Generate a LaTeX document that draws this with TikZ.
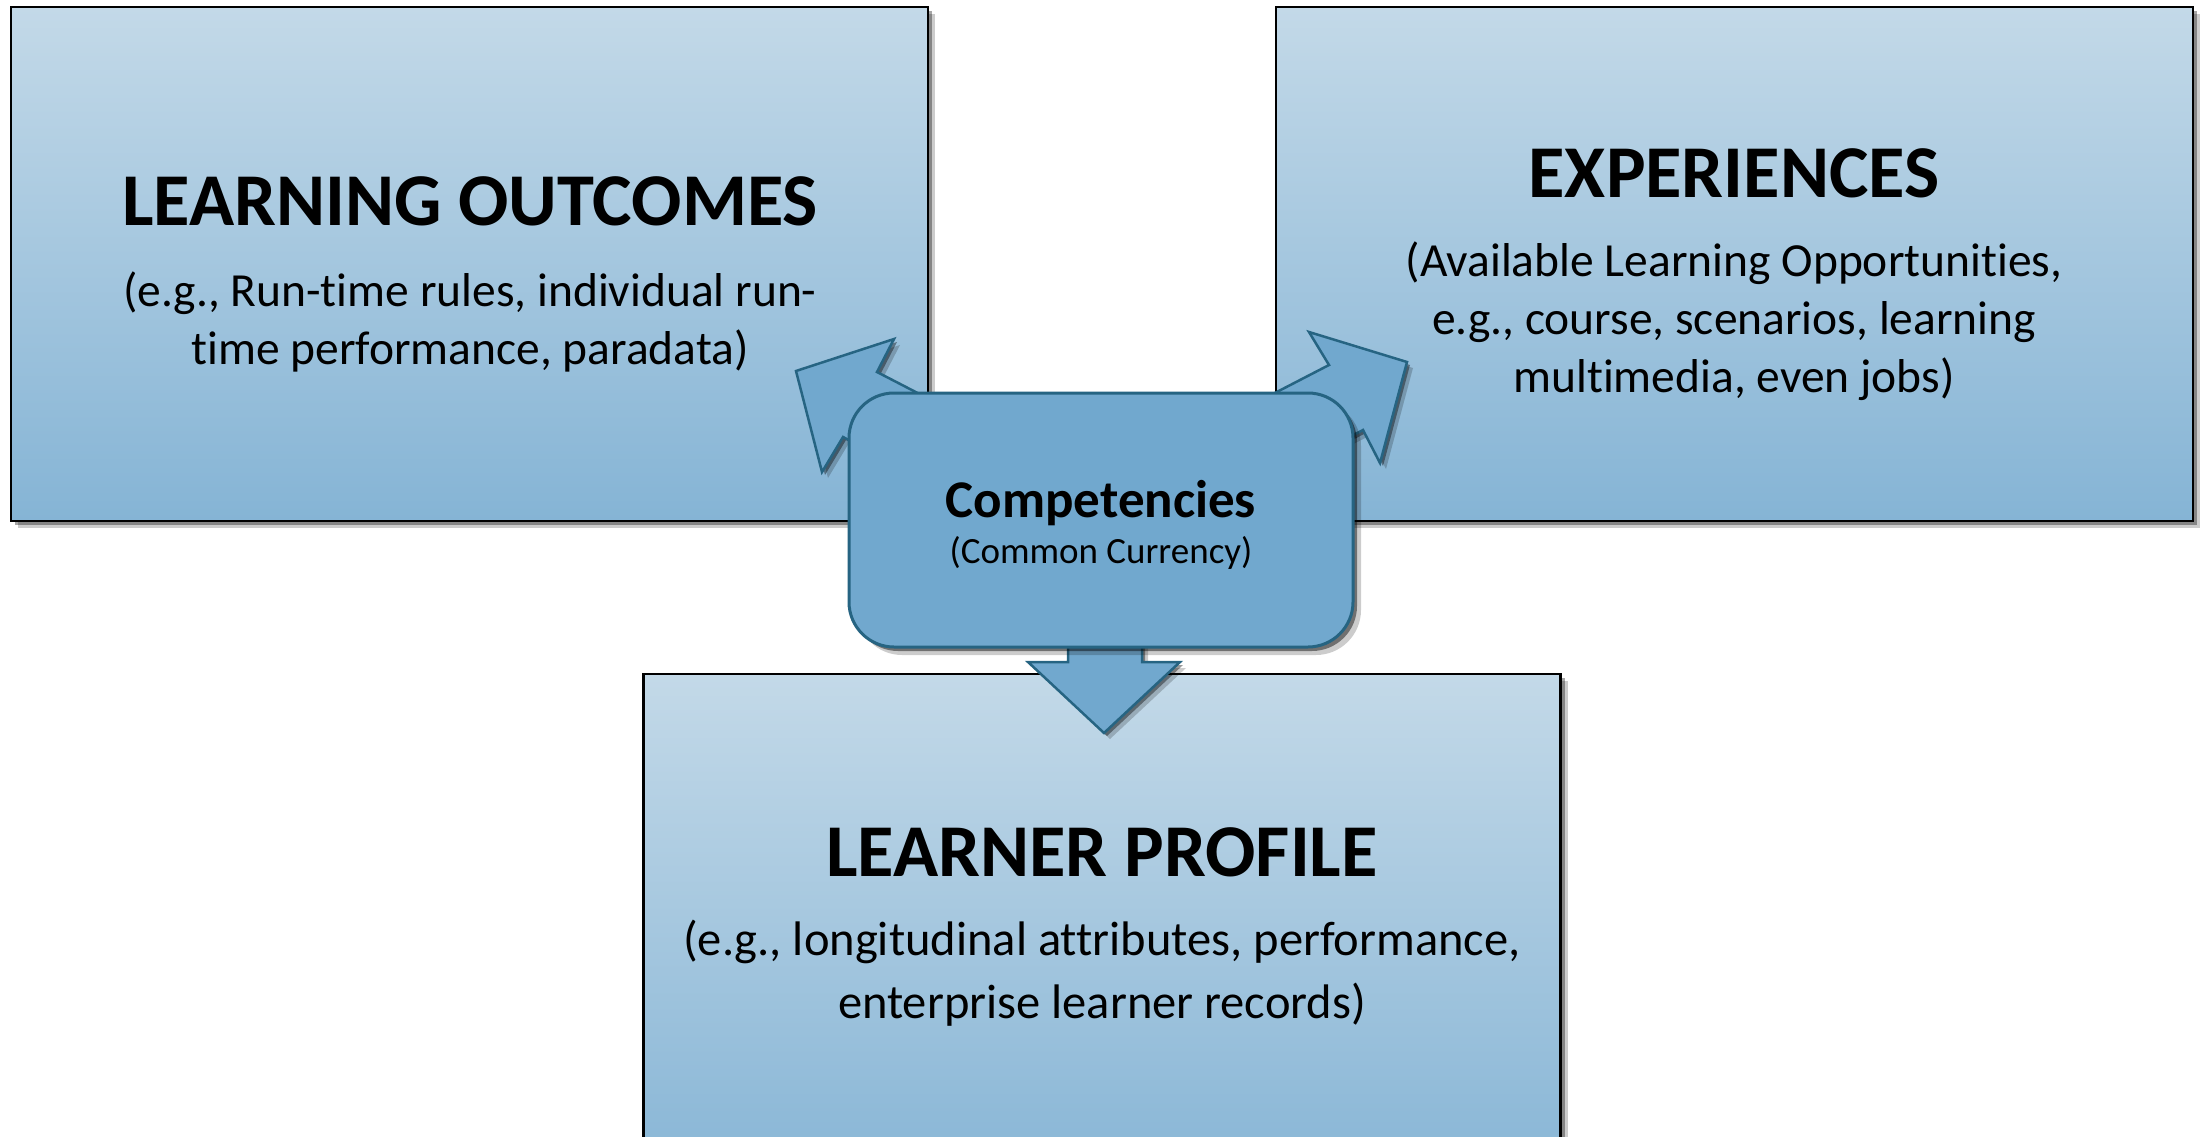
\documentclass[tikz,border=0pt]{standalone}
\usepackage{fontspec}
\setmainfont{Carlito}[Ligatures=NoCommon]
\usetikzlibrary{shadows}
\definecolor{boxtop}{RGB}{195,217,232}
\definecolor{boxbot}{RGB}{133,180,213}
\definecolor{compfill}{RGB}{113,168,206}
\definecolor{compline}{RGB}{38,100,130}
\begin{document}
\begin{tikzpicture}[x=1pt,y=-1pt,
  panel/.style={draw=black, line width=2.5pt, top color=boxtop, bottom color=boxbot,
    drop shadow={shadow xshift=7pt,shadow yshift=-7pt,opacity=0.2,fill=black},
    drop shadow={shadow xshift=4pt,shadow yshift=-4pt,opacity=0.35,fill=black},
    minimum width=917pt, inner sep=0pt},
  blockarrow/.style={draw=compline, line width=2.5pt, fill=compfill, line join=miter,
    drop shadow={shadow xshift=6pt,shadow yshift=-6pt,opacity=0.2,fill=black},
    drop shadow={shadow xshift=3pt,shadow yshift=-3pt,opacity=0.4,fill=black}},
  hub/.style={draw=compline, line width=3pt, fill=compfill, rounded corners=45pt,
    minimum width=504pt, minimum height=254pt, inner sep=0pt,
    drop shadow={shadow xshift=8pt,shadow yshift=-8pt,opacity=0.2,fill=black},
    drop shadow={shadow xshift=4pt,shadow yshift=-4pt,opacity=0.45,fill=black}},
  title/.style={font=\fontsize{74.5}{90}\selectfont\bfseries, inner sep=0pt},
  sub/.style={font=\fontsize{47.5}{58}\selectfont, align=center, inner sep=0pt},
  subb/.style={font=\fontsize{48.5}{63}\selectfont, align=center, inner sep=0pt}
]
\useasboundingbox (0,0) rectangle (2201,1137);
\clip (0,0) rectangle (2201,1137);
% panels
\node[panel, minimum height=514pt] (lo) at (469.5,264) {};
\node[panel, minimum height=514pt] (ex) at (1734.5,264) {};
\node[panel, minimum height=526pt] (lp) at (1102,937) {};
% texts (multi-line nodes: base = last line)
\node[title, anchor=base] (lot) at (470,225) {LEARNING OUTCOMES};
\node[sub, anchor=base] (los) at (470,364) {(e.g., Run-time rules, individual run-\\time performance, paradata)};
\node[title, anchor=base] (ext) at (1734,197) {EXPERIENCES};
\node[sub, anchor=base] (exs) at (1734,392) {(Available Learning Opportunities,\\e.g., course, scenarios, learning\\multimedia, even jobs)};
\node[title, anchor=base] (lpt) at (1102,876) {LEARNER PROFILE};
\node[subb, anchor=base] (lps) at (1102,1018) {(e.g., longitudinal attributes, performance,\\enterprise learner records)};
% block arrows
\draw[blockarrow] (796,371) -- (894,339) -- (877,372) -- (935,402) -- (901,467) -- (843,437) -- (822,472) -- cycle;
\draw[blockarrow] (1407,362) -- (1309,332) -- (1329,365) -- (1271,395) -- (1305,460) -- (1363,430) -- (1380,463) -- cycle;
\draw[blockarrow] (1068,630) -- (1142,630) -- (1142,662) -- (1180,662) -- (1104,733) -- (1028,662) -- (1068,662) -- cycle;
% hub
\node[hub] (hub) at (1101,520) {};
\node[font=\fontsize{53}{64}\selectfont\bfseries, inner sep=0pt, anchor=base] (hubt) at (1101,517) {Competencies};
\node[font=\fontsize{37}{44}\selectfont, inner sep=0pt, anchor=base] (hubs) at (1101,563) {(Common Currency)};
\end{tikzpicture}
\end{document}
